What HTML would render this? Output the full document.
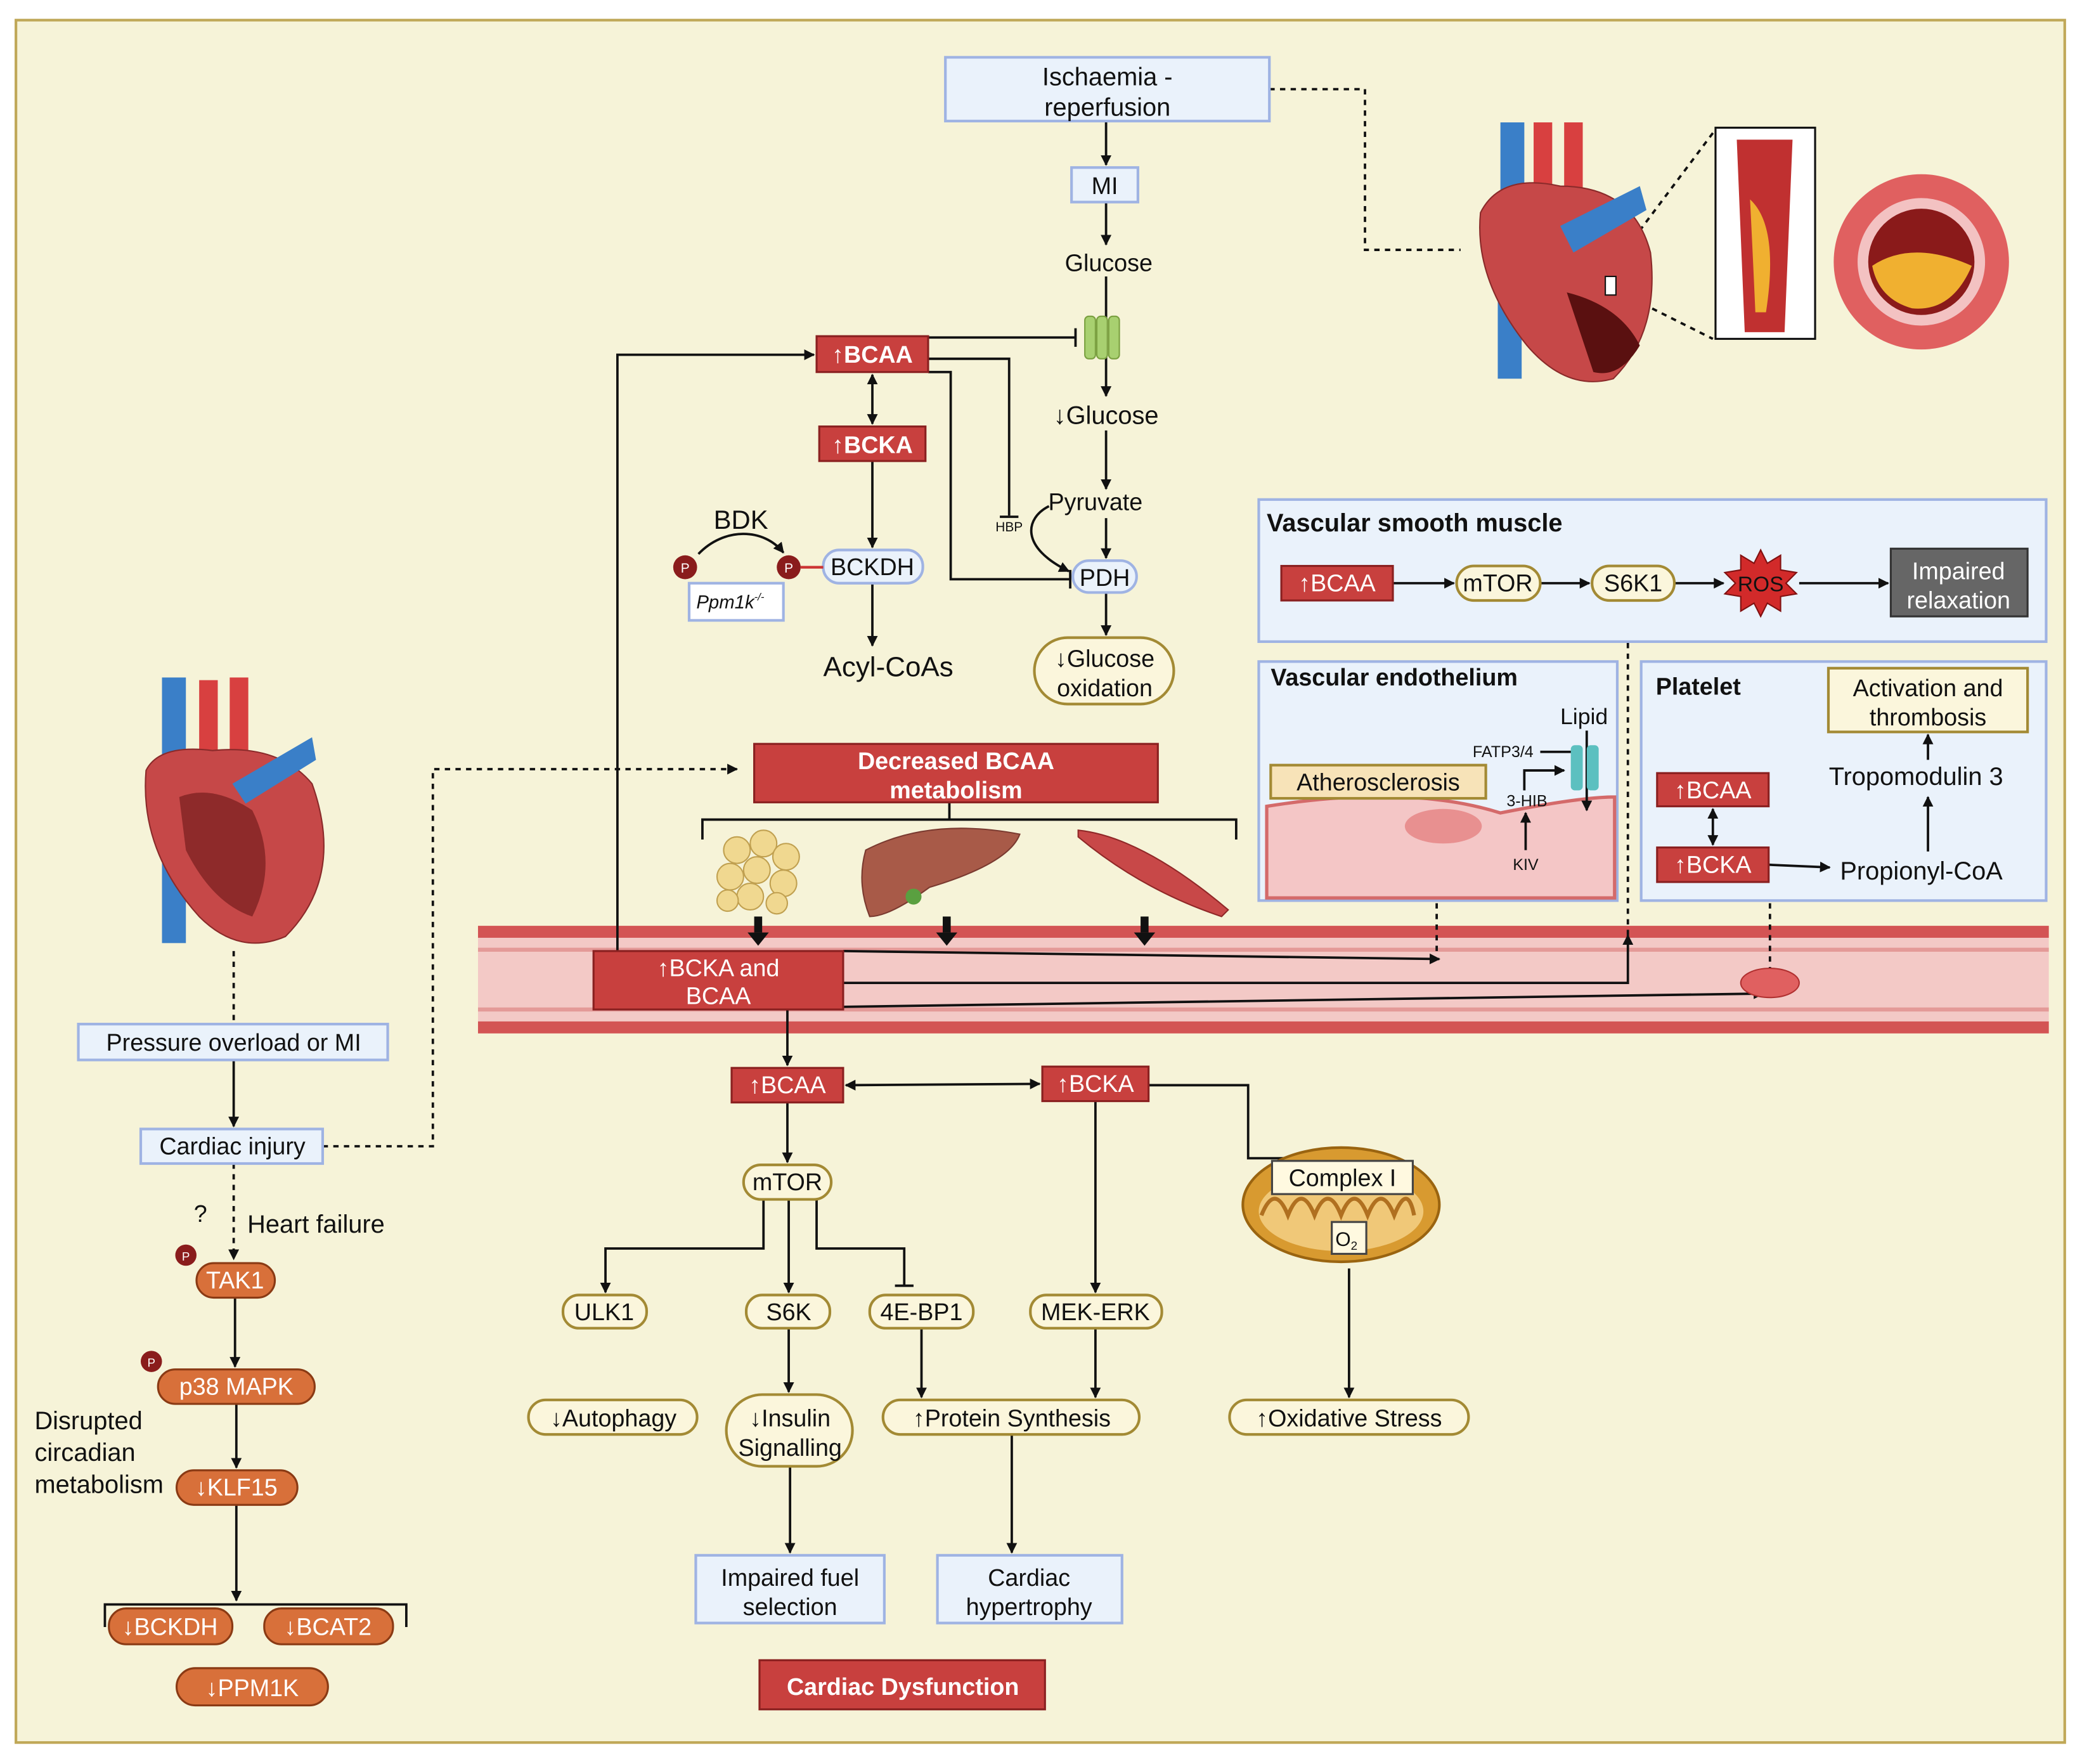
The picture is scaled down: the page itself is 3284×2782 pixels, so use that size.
<!DOCTYPE html>
<html><head><meta charset="utf-8"><style>
html,body{margin:0;padding:0;background:#fff}
svg{display:block}
text{font-family:"Liberation Sans",sans-serif;fill:#111}
.w{fill:#fff;font-weight:bold}
</style></head><body>
<svg width="3284" height="2782" viewBox="0 0 1568 1328" xmlns="http://www.w3.org/2000/svg">
<defs>
<marker id="a" viewBox="0 0 10 10" refX="9" refY="5" markerWidth="4.5" markerHeight="4.5" orient="auto-start-reverse"><path d="M0,0L10,5L0,10z" fill="#111"/></marker>
</defs>
<rect x="12" y="15" width="1543" height="1297" fill="#f6f3d8" stroke="#c0a858" stroke-width="2"/>

<!-- vessel band -->
<rect x="360" y="697" width="1183" height="81" fill="#f3c9c6"/>
<rect x="360" y="697" width="1183" height="9" fill="#d35454"/>
<rect x="360" y="769" width="1183" height="9" fill="#d35454"/>
<line x1="360" y1="715" x2="1543" y2="715" stroke="#e49a98" stroke-width="3"/>
<line x1="360" y1="760" x2="1543" y2="760" stroke="#e49a98" stroke-width="3"/>

<!-- panels -->
<g fill="#eaf2fb" stroke="#9fb3e3" stroke-width="2">
<rect x="948" y="376" width="593" height="107"/>
<rect x="948" y="498" width="270" height="180"/>
<rect x="1236" y="498" width="305" height="180"/>
</g>
<path d="M954,607Q1060,590 1130,612Q1190,600 1216,600V676H954z" fill="#f4c6c6" stroke="#d46a6a" stroke-width="2.5"/>
<ellipse cx="1087" cy="622" rx="29" ry="13" fill="#e89090"/>

<g stroke="#111" stroke-width="1.8" fill="none">
<!-- top chain -->
<line x1="833" y1="91" x2="833" y2="124" marker-end="url(#a)"/>
<line x1="833" y1="152" x2="833" y2="184" marker-end="url(#a)"/>
<line x1="833" y1="208" x2="833" y2="298" marker-end="url(#a)"/>
<line x1="833" y1="324" x2="833" y2="368" marker-end="url(#a)"/>
<line x1="833" y1="390" x2="833" y2="420" marker-end="url(#a)"/>
<line x1="833" y1="446" x2="833" y2="478" marker-end="url(#a)"/>
<path d="M699,254H810"/><path d="M810,247V261"/>
<path d="M699,270H760V388"/><path d="M753,389H767"/>
<path d="M699,280H716V436H806"/><path d="M806,429V443"/>
<path d="M790,381C772,390 768,412 805,430" marker-end="url(#a)"/>
<line x1="657" y1="282" x2="657" y2="319" marker-start="url(#a)" marker-end="url(#a)"/>
<line x1="657" y1="347" x2="657" y2="412" marker-end="url(#a)"/>
<line x1="657" y1="439" x2="657" y2="486" marker-end="url(#a)"/>
<path d="M526,417C545,397 575,397 590,416" marker-end="url(#a)"/>
<path d="M465,716V267H613" marker-end="url(#a)"/>
<path d="M529,632V617H931V632"/><line x1="715" y1="604" x2="715" y2="617"/>
<path d="M635,716L1084,722" marker-end="url(#a)"/>
<path d="M635,740H1226V704" marker-end="url(#a)"/>
<path d="M635,758L1328,748" marker-end="url(#a)"/>
<g stroke-dasharray="4,4">
<path d="M956,67H1028V188H1100"/>
<path d="M243,863H326V579H555" marker-end="url(#a)"/>
<line x1="176" y1="716" x2="176" y2="770"/>
<line x1="176" y1="876" x2="176" y2="948" marker-end="url(#a)"/>
<line x1="1082" y1="680" x2="1082" y2="718"/>
<line x1="1226" y1="484" x2="1226" y2="704"/>
<line x1="1333" y1="680" x2="1333" y2="730"/>
<path d="M1230,180L1290,100M1230,225L1290,255"/>
</g>
<line x1="593" y1="760" x2="593" y2="802" marker-end="url(#a)"/>
<line x1="637" y1="817" x2="783" y2="816" marker-start="url(#a)" marker-end="url(#a)"/>
<line x1="593" y1="830" x2="593" y2="875" marker-end="url(#a)"/>
<path d="M575,903V940H456V973" marker-end="url(#a)"/>
<line x1="594" y1="903" x2="594" y2="973" marker-end="url(#a)"/>
<path d="M615,903V940H681V968"/><path d="M674,968H688"/>
<line x1="825" y1="829" x2="825" y2="973" marker-end="url(#a)"/>
<path d="M865,817H940V872H1016V876"/>
<line x1="1016" y1="899" x2="1016" y2="917" marker-end="url(#a)"/>
<line x1="1016" y1="955" x2="1016" y2="1052" marker-end="url(#a)"/>
<line x1="594" y1="1000" x2="594" y2="1048" marker-end="url(#a)"/>
<line x1="694" y1="1000" x2="694" y2="1052" marker-end="url(#a)"/>
<line x1="825" y1="1000" x2="825" y2="1052" marker-end="url(#a)"/>
<line x1="595" y1="1104" x2="595" y2="1169" marker-end="url(#a)"/>
<line x1="762" y1="1080" x2="762" y2="1169" marker-end="url(#a)"/>
<line x1="176" y1="798" x2="176" y2="848" marker-end="url(#a)"/>
<line x1="177" y1="977" x2="177" y2="1029" marker-end="url(#a)"/>
<line x1="178" y1="1057" x2="178" y2="1105" marker-end="url(#a)"/>
<line x1="178" y1="1133" x2="178" y2="1205" marker-end="url(#a)"/>
<path d="M79,1225V1208H306V1225"/>
<line x1="1049" y1="439" x2="1095" y2="439" marker-end="url(#a)"/>
<line x1="1160" y1="439" x2="1197" y2="439" marker-end="url(#a)"/>
<line x1="1261" y1="439" x2="1298" y2="439" marker-end="url(#a)"/>
<line x1="1355" y1="439" x2="1422" y2="439" marker-end="url(#a)"/>
<line x1="1290" y1="609" x2="1290" y2="636" marker-start="url(#a)" marker-end="url(#a)"/>
<line x1="1332" y1="651" x2="1378" y2="653" marker-end="url(#a)"/>
<line x1="1452" y1="641" x2="1452" y2="600" marker-end="url(#a)"/>
<line x1="1452" y1="572" x2="1452" y2="553" marker-end="url(#a)"/>
<path d="M1149,640V612" marker-end="url(#a)"/>
<path d="M1148,595V580H1178" marker-end="url(#a)"/>
<path d="M1160,566H1186"/>
<line x1="1195" y1="550" x2="1195" y2="610" marker-end="url(#a)"/>
</g>
<g fill="#111"><rect x="568" y="690" width="6" height="12"/><path d="M563,702h16l-8,10z"/>
<rect x="710" y="690" width="6" height="12"/><path d="M705,702h16l-8,10z"/>
<rect x="859" y="690" width="6" height="12"/><path d="M854,702h16l-8,10z"/></g>

<g fill="#eaf2fb" stroke="#9fb3e3" stroke-width="2">
<rect x="712" y="43" width="244" height="48"/>
<rect x="807" y="126" width="50" height="26"/>
<rect x="59" y="771" width="233" height="27"/>
<rect x="106" y="850" width="137" height="26"/>
<rect x="524" y="1171" width="142" height="51"/>
<rect x="706" y="1171" width="139" height="51"/>
<rect x="519" y="439" width="71" height="28" fill="#fff"/>
<rect x="620" y="414" width="75" height="25" rx="12"/>
<rect x="808" y="422" width="48" height="24" rx="12"/>
</g>
<text x="834" y="64" font-size="19" text-anchor="middle">Ischaemia -</text>
<text x="834" y="87" font-size="19" text-anchor="middle">reperfusion</text>
<text x="832" y="146" font-size="18" text-anchor="middle">MI</text>
<text x="835" y="204" font-size="18" text-anchor="middle">Glucose</text>
<text x="833" y="319" font-size="19" text-anchor="middle">↓Glucose</text>
<text x="825" y="384" font-size="18" text-anchor="middle">Pyruvate</text>
<text x="760" y="400" font-size="10" text-anchor="middle">HBP</text>
<text x="832" y="441" font-size="18" text-anchor="middle">PDH</text>
<text x="657" y="433" font-size="18" text-anchor="middle">BCKDH</text>
<text x="558" y="398" font-size="20" text-anchor="middle">BDK</text>
<text x="550" y="458" font-size="14" font-style="italic" text-anchor="middle">Ppm1k<tspan font-size="8" dy="-6">-/-</tspan></text>
<text x="669" y="509" font-size="21" text-anchor="middle">Acyl-CoAs</text>
<circle cx="516" cy="427" r="9" fill="#8a1c1c"/><text x="516" y="431" font-size="10" text-anchor="middle" style="fill:#fff">P</text>
<circle cx="594" cy="427" r="9" fill="#8a1c1c"/><text x="594" y="431" font-size="10" text-anchor="middle" style="fill:#fff">P</text>
<line x1="603" y1="427" x2="620" y2="427" stroke="#c33" stroke-width="2"/>
<rect x="817" y="238" width="8" height="32" rx="3" fill="#a8d070" stroke="#7aa040"/>
<rect x="826" y="238" width="8" height="32" rx="3" fill="#a8d070" stroke="#7aa040"/>
<rect x="835" y="238" width="8" height="32" rx="3" fill="#a8d070" stroke="#7aa040"/>

<g fill="#c8403e" stroke="#8a2020" stroke-width="1.5">
<rect x="615" y="253" width="84" height="27"/>
<rect x="617" y="321" width="80" height="26"/>
<rect x="568" y="560" width="304" height="44"/>
<rect x="447" y="716" width="188" height="44"/>
<rect x="551" y="804" width="84" height="26"/>
<rect x="785" y="803" width="80" height="26"/>
<rect x="572" y="1250" width="215" height="37"/>
<rect x="965" y="426" width="84" height="26"/>
<rect x="1248" y="582" width="84" height="25"/>
<rect x="1248" y="638" width="84" height="26"/>
</g>
<g font-size="18" text-anchor="middle">
<text class="w" x="657" y="273">↑BCAA</text>
<text class="w" x="657" y="341">↑BCKA</text>
<text class="w" x="720" y="579">Decreased BCAA</text>
<text class="w" x="720" y="601">metabolism</text>
<text class="w" x="541" y="735" style="font-weight:normal">↑BCKA and</text>
<text class="w" x="541" y="756" style="font-weight:normal">BCAA</text>
<text class="w" x="593" y="823" style="font-weight:normal">↑BCAA</text>
<text class="w" x="825" y="822" style="font-weight:normal">↑BCKA</text>
<text class="w" x="680" y="1276">Cardiac Dysfunction</text>
<text class="w" x="1007" y="445" style="font-weight:normal">↑BCAA</text>
<text class="w" x="1290" y="601" style="font-weight:normal">↑BCAA</text>
<text class="w" x="1290" y="657" style="font-weight:normal">↑BCKA</text>
</g>

<g fill="#fbf6dc" stroke="#a38a34" stroke-width="2">
<rect x="779" y="480" width="105" height="50" rx="25"/>
<rect x="560" y="877" width="66" height="26" rx="13"/>
<rect x="424" y="975" width="63" height="25" rx="12"/>
<rect x="562" y="975" width="63" height="25" rx="12"/>
<rect x="655" y="975" width="78" height="25" rx="12"/>
<rect x="776" y="975" width="99" height="25" rx="12"/>
<rect x="398" y="1054" width="127" height="26" rx="13"/>
<rect x="547" y="1050" width="95" height="54" rx="27"/>
<rect x="665" y="1054" width="193" height="26" rx="13"/>
<rect x="926" y="1054" width="180" height="26" rx="13"/>
<rect x="1097" y="426" width="63" height="26" rx="13"/>
<rect x="1199" y="426" width="62" height="26" rx="13"/>
</g>
<g font-size="18" text-anchor="middle">
<text x="832" y="502">↓Glucose</text><text x="832" y="524">oxidation</text>
<text x="593" y="896">mTOR</text><text x="455" y="994">ULK1</text><text x="594" y="994">S6K</text>
<text x="694" y="994">4E-BP1</text><text x="825" y="994">MEK-ERK</text>
<text x="462" y="1074">↓Autophagy</text>
<text x="595" y="1074">↓Insulin</text><text x="595" y="1096">Signalling</text>
<text x="762" y="1074">↑Protein Synthesis</text>
<text x="1016" y="1074">↑Oxidative Stress</text>
<text x="595" y="1194">Impaired fuel</text><text x="595" y="1216">selection</text>
<text x="775" y="1194">Cardiac</text><text x="775" y="1216">hypertrophy</text>
<text x="176" y="791">Pressure overload or MI</text>
<text x="175" y="869">Cardiac injury</text>
<text x="1128" y="445">mTOR</text><text x="1230" y="445">S6K1</text>
</g>
<text x="238" y="928" font-size="19" text-anchor="middle">Heart failure</text>
<text x="151" y="920" font-size="18" text-anchor="middle">?</text>
<text x="26" y="1076" font-size="19">Disrupted</text>
<text x="26" y="1100" font-size="19">circadian</text>
<text x="26" y="1124" font-size="19">metabolism</text>

<g fill="#d8703a" stroke="#8a3a14" stroke-width="1.5">
<rect x="148" y="951" width="59" height="26" rx="13"/>
<rect x="119" y="1031" width="118" height="26" rx="13"/>
<rect x="133" y="1107" width="91" height="26" rx="13"/>
<rect x="82" y="1211" width="93" height="27" rx="13"/>
<rect x="199" y="1211" width="97" height="27" rx="13"/>
<rect x="133" y="1256" width="114" height="28" rx="14"/>
</g>
<g font-size="18" text-anchor="middle">
<text class="w" style="font-weight:normal" x="177" y="970">TAK1</text>
<text class="w" style="font-weight:normal" x="178" y="1050">p38 MAPK</text>
<text class="w" style="font-weight:normal" x="178" y="1126">↓KLF15</text>
<text class="w" style="font-weight:normal" x="128" y="1231">↓BCKDH</text>
<text class="w" style="font-weight:normal" x="247" y="1231">↓BCAT2</text>
<text class="w" style="font-weight:normal" x="190" y="1277">↓PPM1K</text>
</g>
<circle cx="140" cy="945" r="8" fill="#8a1c1c"/><text x="140" y="949" font-size="9" text-anchor="middle" style="fill:#fff">P</text>
<circle cx="114" cy="1025" r="8" fill="#8a1c1c"/><text x="114" y="1029" font-size="9" text-anchor="middle" style="fill:#fff">P</text>

<ellipse cx="1010" cy="907" rx="74" ry="43" fill="#d89a30" stroke="#9a6410" stroke-width="2"/>
<ellipse cx="1010" cy="912" rx="62" ry="30" fill="#f0c878"/>
<path d="M950,915q10,-25 20,0q10,-25 20,0q10,-25 20,0q10,-25 20,0q10,-25 20,0q10,-25 15,0" fill="none" stroke="#b07020" stroke-width="3"/>
<rect x="958" y="874" width="106" height="25" fill="#fff9e0" stroke="#444" stroke-width="1.5"/>
<text x="1011" y="893" font-size="18" text-anchor="middle">Complex I</text>
<rect x="1003" y="920" width="26" height="24" fill="#fff9e0" stroke="#444" stroke-width="1.5"/>
<text x="1014" y="938" font-size="15" text-anchor="middle">O<tspan font-size="9" dy="3">2</tspan></text>

<text x="954" y="400" font-size="19" font-weight="bold">Vascular smooth muscle</text>
<text x="957" y="516" font-size="18" font-weight="bold">Vascular endothelium</text>
<text x="1247" y="523" font-size="18" font-weight="bold">Platelet</text>
<path d="M1326,414l5,10 10,-6 0,11 12,2 -8,8 8,8 -12,2 0,11 -10,-6 -5,10 -5,-10 -10,6 0,-11 -12,-2 8,-8 -8,-8 12,-2 0,-11 10,6z" fill="#d22a2a" stroke="#801010"/>
<text x="1326" y="445" font-size="16" text-anchor="middle">ROS</text>
<rect x="1424" y="413" width="103" height="51" fill="#666" stroke="#333" stroke-width="1.5"/>
<text x="1475" y="436" font-size="18" text-anchor="middle" style="fill:#fff">Impaired</text>
<text x="1475" y="458" font-size="18" text-anchor="middle" style="fill:#fff">relaxation</text>
<rect x="957" y="576" width="162" height="25" fill="#f7e3b8" stroke="#a38a34" stroke-width="2"/>
<text x="1038" y="595" font-size="18" text-anchor="middle">Atherosclerosis</text>
<rect x="1183" y="561" width="9" height="34" rx="3" fill="#5cc0c0"/><rect x="1195" y="561" width="9" height="34" rx="3" fill="#5cc0c0"/>
<text x="1193" y="545" font-size="17" text-anchor="middle">Lipid</text>
<text x="1132" y="570" font-size="12" text-anchor="middle">FATP3/4</text>
<text x="1150" y="607" font-size="12" text-anchor="middle">3-HIB</text>
<text x="1149" y="655" font-size="12" text-anchor="middle">KIV</text>
<rect x="1377" y="503" width="150" height="48" fill="#fbf6dc" stroke="#a38a34" stroke-width="2"/>
<text x="1452" y="524" font-size="18" text-anchor="middle">Activation and</text>
<text x="1452" y="546" font-size="18" text-anchor="middle">thrombosis</text>
<text x="1443" y="591" font-size="19" text-anchor="middle">Tropomodulin 3</text>
<text x="1447" y="662" font-size="19" text-anchor="middle">Propionyl-CoA</text>
<ellipse cx="1333" cy="740" rx="22" ry="11" fill="#e06060" stroke="#b03030"/>

<g fill="#f0d890" stroke="#c0a050">
<circle cx="555" cy="640" r="10"/><circle cx="575" cy="635" r="10"/><circle cx="592" cy="645" r="10"/>
<circle cx="550" cy="660" r="10"/><circle cx="570" cy="655" r="10"/><circle cx="590" cy="665" r="10"/>
<circle cx="565" cy="675" r="10"/><circle cx="585" cy="680" r="8"/><circle cx="548" cy="678" r="8"/></g>
<path d="M652,640Q700,615 768,628Q760,650 700,668Q670,690 655,690Q645,665 652,640z" fill="#a85a48" stroke="#7a3a30"/>
<circle cx="688" cy="675" r="6" fill="#5aa040"/>
<path d="M812,625Q860,630 925,685L920,690Q860,670 812,630z" fill="#c84848" stroke="#902828"/>

<rect x="122" y="510" width="18" height="90" fill="#3a7fc8"/>
<rect x="150" y="512" width="14" height="70" fill="#d84040"/><rect x="173" y="510" width="14" height="70" fill="#d84040"/>
<rect x="122" y="630" width="18" height="80" fill="#3a7fc8"/>
<path d="M110,580Q120,560 160,565Q210,560 235,590Q260,660 215,705Q180,720 150,690Q105,640 110,580z" fill="#c64848" stroke="#8a2a2a"/>
<path d="M135,600Q160,590 190,610Q210,650 190,690Q160,680 140,640z" fill="#8e2a2a"/>
<path d="M175,590L235,555L238,572L185,605z" fill="#3a7fc8"/>

<rect x="1130" y="92" width="18" height="90" fill="#3a7fc8"/><rect x="1128" y="210" width="18" height="75" fill="#3a7fc8"/>
<rect x="1155" y="92" width="14" height="70" fill="#d84040"/><rect x="1178" y="92" width="14" height="70" fill="#d84040"/>
<path d="M1115,160Q1130,130 1175,140Q1230,140 1243,190Q1250,250 1215,285Q1180,295 1150,260Q1110,210 1115,160z" fill="#c64848" stroke="#8a2a2a"/>
<path d="M1180,220Q1220,230 1235,260Q1220,285 1200,280z" fill="#5a1010"/>
<path d="M1175,170L1235,140L1240,158L1185,190z" fill="#3a7fc8"/>
<rect x="1209" y="208" width="8" height="14" fill="#fff" stroke="#111"/>
<rect x="1292" y="96" width="75" height="159" fill="#fff" stroke="#111" stroke-width="1.5"/>
<path d="M1308,105H1350L1344,250H1314z" fill="#c03030"/>
<path d="M1318,150Q1340,170 1330,235L1322,235Q1320,190 1318,150z" fill="#f0b030"/>
<circle cx="1447" cy="197" r="66" fill="#e06060"/>
<circle cx="1447" cy="197" r="48" fill="#f3c2c2"/>
<circle cx="1447" cy="197" r="40" fill="#8a1a1a"/>
<path d="M1410,200Q1440,180 1485,200Q1470,235 1440,232Q1415,225 1410,200z" fill="#f0b030"/>
</svg>
</body></html>
